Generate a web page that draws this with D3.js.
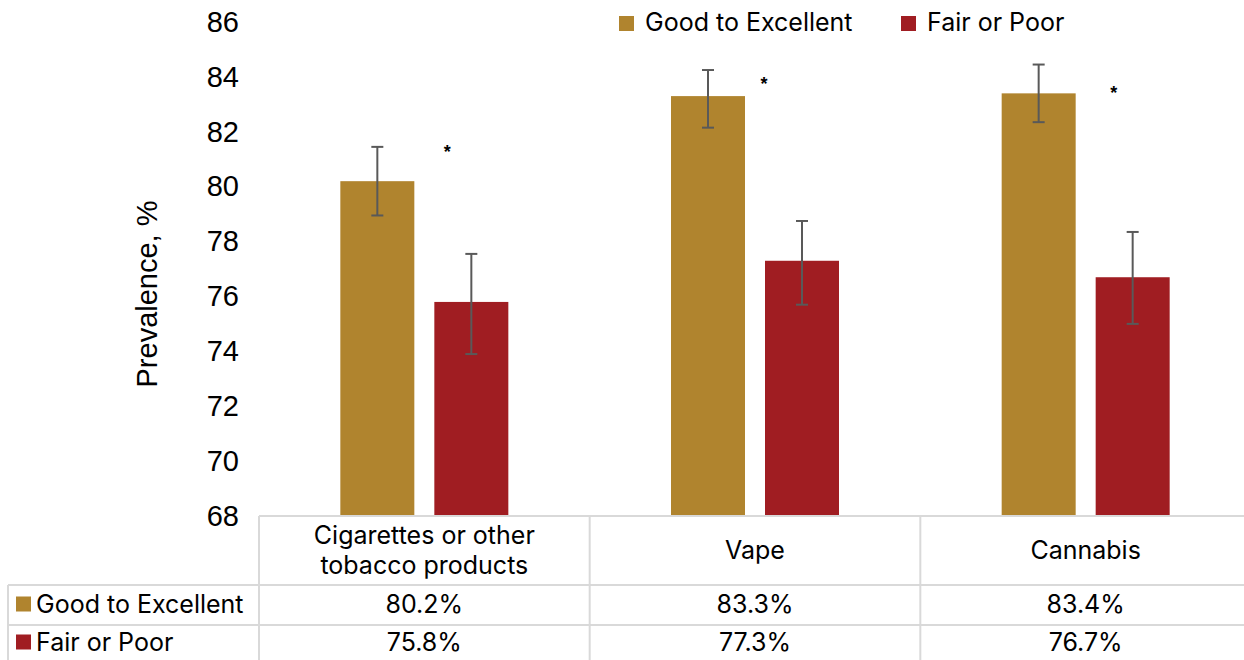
<!DOCTYPE html>
<html>
<head>
<meta charset="utf-8">
<script src="https://cdn.jsdelivr.net/npm/d3@7"></script>
<style>
  html, body { margin: 0; padding: 0; background: #fff; }
  svg { display: block; }
</style>
</head>
<body>
<svg id="chart" width="1244" height="660"></svg>
<script>
// ---- data ----
const categories = ["Cigarettes or other tobacco products", "Vape", "Cannabis"];
const categoryLines = [["Cigarettes or other", "tobacco products"], ["Vape"], ["Cannabis"]];
const seriesNames = ["Good to Excellent", "Fair or Poor"];
const goodValues = [80.2, 83.3, 83.4];
const fairValues = [75.8, 77.3, 76.7];
const goodLow  = [78.95, 82.15, 82.35];
const goodHigh = [81.45, 84.25, 84.45];
const fairLow  = [73.9, 75.7, 75.0];
const fairHigh = [77.55, 78.75, 78.35];
const sigLevel = [81.4, 83.9, 83.55];   // height of the "*" significance marker
const yTicks = [68, 70, 72, 74, 76, 78, 80, 82, 84, 86];

// ---- layout / style ----
const W = 1244, H = 660;
const colors = { "Good to Excellent": "#B0842E", "Fair or Poor": "#A01D22" };
const gridColor = "#d9d9d9";
const tickFont = "'Liberation Sans', Arial, sans-serif";
const tableFont = "Inter, 'Noto Sans', sans-serif";
const tableSize = 25;
const starDx = [23, 9, 28];

const svg = d3.select("#chart");

const y = d3.scaleLinear().domain([68, 86]).range([516, 22]);
const x = d3.scaleBand().domain(categories).range([259, 1251]);
const xs = d3.scaleBand().domain(seriesNames).range([-84, 84]).paddingInner(20 / 94);

const series = [
  { name: "Good to Excellent", values: goodValues, lo: goodLow, hi: goodHigh },
  { name: "Fair or Poor", values: fairValues, lo: fairLow, hi: fairHigh }
];

// y axis labels (no axis line, no tick marks)
const yAxis = d3.axisLeft(y).tickValues(yTicks).tickSize(0).tickPadding(0).tickFormat(d3.format("d"));
const gy = svg.append("g").attr("transform", "translate(239,0)").call(yAxis);
gy.select(".domain").remove();
gy.selectAll("text")
  .attr("font-family", tickFont)
  .attr("font-size", 29)
  .attr("fill", "#000")
  .attr("dy", "0.32em");

// axis title
svg.append("text")
  .attr("transform", `translate(157,294) rotate(-90)`)
  .attr("text-anchor", "middle")
  .attr("font-family", tickFont)
  .attr("font-size", 29)
  .attr("fill", "#000")
  .text("Prevalence, %");

// bars
const gBars = svg.append("g");
series.forEach(s => {
  const g = gBars.append("g");
  g.selectAll("rect")
    .data(categories)
    .join("rect")
    .attr("x", (c) => x(c) + x.bandwidth() / 2 + xs(s.name))
    .attr("y", (c, i) => y(s.values[i]))
    .attr("width", xs.bandwidth())
    .attr("height", (c, i) => y(68) - y(s.values[i]))
    .attr("fill", colors[s.name]);
});

// error bars
series.forEach(s => {
  const g = svg.append("g").attr("stroke", "#595959").attr("stroke-width", 2);
  categories.forEach((c, i) => {
    const cx = x(c) + x.bandwidth() / 2 + xs(s.name) + xs.bandwidth() / 2;
    g.append("line").attr("x1", cx).attr("x2", cx).attr("y1", y(s.lo[i])).attr("y2", y(s.hi[i]));
    g.append("line").attr("x1", cx - 6).attr("x2", cx + 6).attr("y1", y(s.lo[i])).attr("y2", y(s.lo[i]));
    g.append("line").attr("x1", cx - 6).attr("x2", cx + 6).attr("y1", y(s.hi[i])).attr("y2", y(s.hi[i]));
  });
});

// significance markers
svg.append("g").selectAll("text")
  .data(categories)
  .join("text")
  .attr("x", (c, i) => x(c) + x.bandwidth() / 2 + starDx[i])
  .attr("y", (c, i) => y(sigLevel[i]) + 10)
  .attr("text-anchor", "middle")
  .attr("font-family", tickFont)
  .attr("font-size", 18)
  .attr("font-weight", "bold")
  .attr("fill", "#000")
  .text("*");

// top legend
const legendX = [619, 901];
const gLeg = svg.append("g");
seriesNames.forEach((n, i) => {
  gLeg.append("rect").attr("x", legendX[i]).attr("y", 16).attr("width", 15).attr("height", 15).attr("fill", colors[n]);
  gLeg.append("text")
    .attr("x", legendX[i] + 26).attr("y", 22)
    .attr("dominant-baseline", "central")
    .attr("font-family", tableFont).attr("font-size", tableSize).attr("fill", "#000")
    .text(n);
});

// data table below the plot
const rowTops = [516, 585, 625, 661];
const gT = svg.append("g");
const tableRight = 1251;
// horizontal rules
gT.append("line").attr("x1", x.range()[0]).attr("x2", tableRight).attr("y1", rowTops[0]).attr("y2", rowTops[0]);
gT.append("line").attr("x1", 8).attr("x2", tableRight).attr("y1", rowTops[1]).attr("y2", rowTops[1]);
gT.append("line").attr("x1", 8).attr("x2", tableRight).attr("y1", rowTops[2]).attr("y2", rowTops[2]);
// vertical rules
gT.append("line").attr("x1", 8).attr("x2", 8).attr("y1", rowTops[1]).attr("y2", H);
categories.forEach(c => {
  gT.append("line").attr("x1", x(c)).attr("x2", x(c)).attr("y1", rowTops[0]).attr("y2", H);
});
gT.selectAll("line").attr("stroke", gridColor).attr("stroke-width", 2);

// category headers
categories.forEach((c, i) => {
  const lines = categoryLines[i];
  const cy = (rowTops[0] + rowTops[1]) / 2 - 1;
  const lh = 30;
  lines.forEach((ln, j) => {
    gT.append("text")
      .attr("x", x(c) + x.bandwidth() / 2)
      .attr("y", cy + (j - (lines.length - 1) / 2) * lh)
      .attr("text-anchor", "middle")
      .attr("dominant-baseline", "central")
      .attr("font-family", tableFont).attr("font-size", tableSize).attr("fill", "#000")
      .text(ln);
  });
});

// value rows
const fmt = d => d.toFixed(1) + "%";
series.forEach((s, r) => {
  const cy = (rowTops[r + 1] + rowTops[r + 2]) / 2 - 1;
  gT.append("rect").attr("x", 16).attr("y", cy - 7.5).attr("width", 15).attr("height", 15).attr("fill", colors[s.name]);
  gT.append("text")
    .attr("x", 36).attr("y", cy)
    .attr("dominant-baseline", "central")
    .attr("font-family", tableFont).attr("font-size", tableSize).attr("fill", "#000")
    .text(s.name);
  categories.forEach((c, i) => {
    gT.append("text")
      .attr("x", x(c) + x.bandwidth() / 2)
      .attr("y", cy)
      .attr("text-anchor", "middle")
      .attr("dominant-baseline", "central")
      .attr("font-family", tableFont).attr("font-size", tableSize).attr("fill", "#000")
      .text(fmt(s.values[i]));
  });
});
</script>
</body>
</html>
